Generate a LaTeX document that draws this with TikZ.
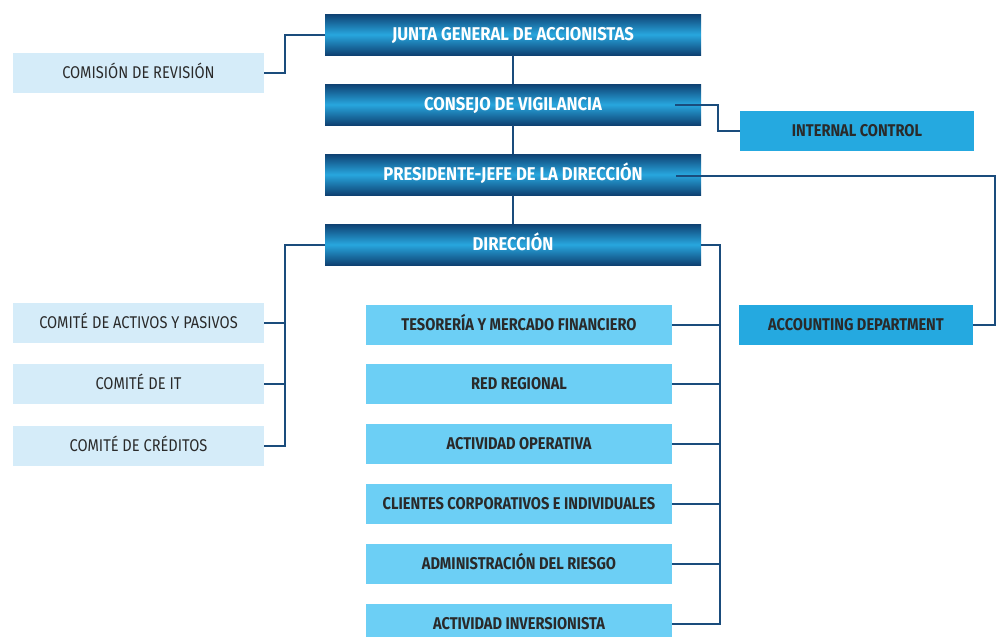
\documentclass[tikz,border=0pt]{standalone}
\usepackage{fontspec}
\setmainfont{Fira Sans}[FakeStretch=0.86]
\newfontfamily\darkfont{Fira Sans}[FakeStretch=0.9]
\usetikzlibrary{positioning}
\definecolor{navy}{HTML}{0E4172}
\definecolor{bright}{HTML}{28A6DE}
\definecolor{lightbg}{HTML}{D5ECF9}
\definecolor{midbg}{HTML}{6CCFF5}
\definecolor{ctrlbg}{HTML}{25A9E0}
\definecolor{txt}{HTML}{2A2A2A}
\definecolor{linec}{HTML}{1A4C7C}
\tikzset{
  base/.style={inner sep=0pt, text height=11.7pt, text depth=0pt, font=\fontsize{17}{19}\selectfont},
  darkbox/.style={base, text height=12.7pt, minimum width=376pt, minimum height=41pt, top color=navy, bottom color=navy, middle color=bright, text=white, font=\darkfont\fontsize{18.5}{20}\selectfont\bfseries},
  lightbox/.style={base, minimum width=251pt, minimum height=40pt, fill=lightbg, text=txt},
  midbox/.style={base, minimum width=306pt, minimum height=40pt, fill=midbg, text=txt, font=\fontsize{17}{19}\selectfont\bfseries},
  ctrlbox/.style={base, minimum width=234pt, minimum height=40pt, fill=ctrlbg, text=txt, font=\fontsize{17}{19}\selectfont\bfseries},
  conn/.style={draw=linec, line width=2pt}
}
\begin{document}
\begin{tikzpicture}[x=1pt,y=-1pt]
\useasboundingbox (0,0) rectangle (999,637);
\clip (0,0) rectangle (999,637);
% top chain
\node[darkbox] (junta) at (513,34.5) {JUNTA GENERAL DE ACCIONISTAS};
\node[darkbox] (consejo) at (513,104.5) {CONSEJO DE VIGILANCIA};
\node[darkbox] (pres) at (513,174.5) {PRESIDENTE-JEFE DE LA DIRECCIÓN};
\node[darkbox] (dir) at (513,244.5) {DIRECCIÓN};
% side boxes
\node[lightbox] (comision) at (138.5,73) {COMISIÓN DE REVISIÓN};
\node[ctrlbox] (internal) at (857,131) {INTERNAL CONTROL};
\node[ctrlbox] (accounting) at (856,325) {ACCOUNTING DEPARTMENT};
% committees
\node[lightbox] (c1) at (138.5,323) {COMITÉ DE ACTIVOS Y PASIVOS};
\node[lightbox] (c2) at (138.5,384) {COMITÉ DE IT};
\node[lightbox] (c3) at (138.5,446) {COMITÉ DE CRÉDITOS};
% departments
\node[midbox] (m1) at (519,325) {TESORERÍA Y MERCADO FINANCIERO};
\node[midbox] (m2) at (519,384) {RED REGIONAL};
\node[midbox] (m3) at (519,444) {ACTIVIDAD OPERATIVA};
\node[midbox] (m4) at (519,504) {CLIENTES CORPORATIVOS E INDIVIDUALES};
\node[midbox] (m5) at (519,564) {ADMINISTRACIÓN DEL RIESGO};
\node[midbox] (m6) at (519,624) {ACTIVIDAD INVERSIONISTA};
% connectors
\draw[conn] (junta.south) -- (consejo.north);
\draw[conn] (consejo.south) -- (pres.north);
\draw[conn] (pres.south) -- (dir.north);
\draw[conn] (comision.east) -- ++(21,0) |- (junta.west);
\draw[conn] ([xshift=-26pt]consejo.east) -- ++(43,0) |- (internal.west);
\coordinate (accr) at ([xshift=22pt]accounting.east);
\draw[conn] ([xshift=-25pt,yshift=-1.5pt]pres.east) -| (accr) -- (accounting.east);
\coordinate (rt) at (720,624);
\draw[conn] (dir.east) -| (rt) -- (m6.east);
\foreach \m in {m1,m2,m3,m4,m5} \draw[conn] (\m.east) -- (\m.east -| rt);
\coordinate (lt) at (285,446);
\draw[conn] (dir.west) -| (lt) -- (c3.east);
\foreach \c in {c1,c2} \draw[conn] (\c.east) -- (\c.east -| lt);
\end{tikzpicture}
\end{document}
